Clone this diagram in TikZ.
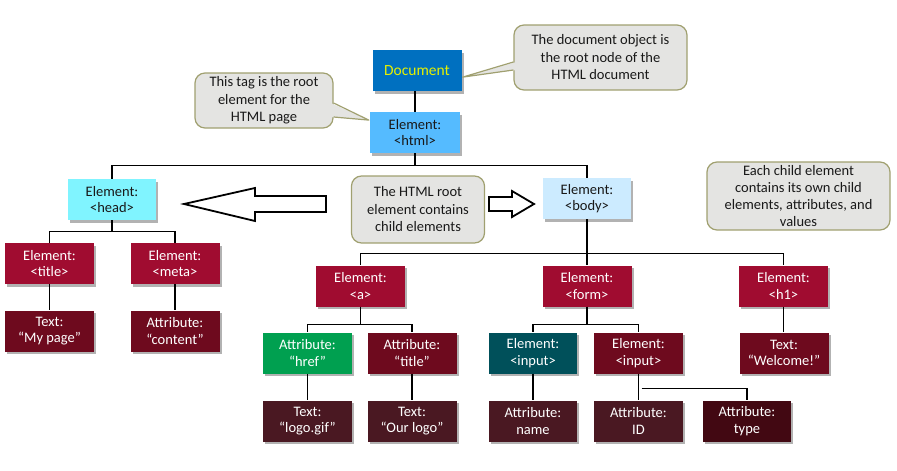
\documentclass[tikz,border=0pt]{standalone}
\usepackage{fontspec}
\setmainfont{Carlito}
\usetikzlibrary{calc,shadows}
\definecolor{docblue}{HTML}{0070C0}
\definecolor{docyel}{HTML}{E6F000}
\definecolor{htmlblue}{HTML}{55BBFF}
\definecolor{headcyan}{HTML}{80F4FF}
\definecolor{bodyblue}{HTML}{CCEBFF}
\definecolor{elred}{HTML}{A00C30}
\definecolor{darkred}{HTML}{6E0A1E}
\definecolor{attgreen}{HTML}{00A050}
\definecolor{teal}{HTML}{00505A}
\definecolor{brownred}{HTML}{4A1822}
\definecolor{deepred}{HTML}{420812}
\definecolor{cfill}{HTML}{E4E4E2}
\definecolor{cline}{HTML}{A0A070}
\tikzset{
  box/.style={rectangle, minimum width=89pt, minimum height=41pt, inner sep=0pt,
    align=center, font=\fontsize{14.5}{16.5}\selectfont, text=white,
    drop shadow={shadow xshift=2pt, shadow yshift=-2.5pt, opacity=0.3, fill=black}},
  lightbox/.style={box, text=black!90},
  callout/.style={rectangle, rounded corners=10pt, fill=cfill, draw=cline, line width=1.2pt,
    align=center, inner sep=0pt, font=\fontsize{14.5}{17.5}\selectfont, text=black!90},
  tree/.style={draw=black, line width=1.3pt},
  blockarrow/.style={draw=black, fill=white, line width=1.8pt, line join=miter},
}
\begin{document}
\begin{tikzpicture}[x=1pt,y=-1pt]
\useasboundingbox (0,0) rectangle (897,471);
% nodes
\node[box, fill=docblue, text=docyel, font=\fontsize{15.5}{17}\selectfont] (doc) at (417,70.5) {Document};
\node[lightbox, fill=htmlblue, minimum width=90pt] (html) at (415,132.5) {Element:\\<html>};
\node[lightbox, fill=headcyan, minimum width=88pt] (head) at (112,199.5) {Element:\\<head>};
\node[lightbox, fill=bodyblue, minimum width=88pt] (body) at (587,198.5) {Element:\\<body>};
\node[box, fill=elred] (title) at (49.5,263.5) {Element:\\<title>};
\node[box, fill=elred] (meta) at (175,263.5) {Element:\\<meta>};
\node[box, fill=darkred] (mypage) at (49.5,331) {Text:\\“My page”};
\node[box, fill=darkred] (content) at (175,331) {Attribute:\\“content”};
\node[box, fill=elred] (a) at (360.5,286) {Element:\\<a>};
\node[box, fill=elred] (form) at (587,286) {Element:\\<form>};
\node[box, fill=elred] (h1) at (783.5,286) {Element:\\<h1>};
\node[box, fill=attgreen] (href) at (307.5,353) {Attribute:\\“href”};
\node[box, fill=darkred] (tattr) at (412,353) {Attribute:\\“title”};
\node[box, fill=teal, minimum width=88pt] (input1) at (533,353) {Element:\\<input>};
\node[box, fill=darkred] (input2) at (638.5,353) {Element:\\<input>};
\node[box, fill=darkred] (welcome) at (784,353) {Text:\\“Welcome!”};
\node[box, fill=brownred] (logo) at (307.5,421) {Text:\\“logo.gif”};
\node[box, fill=brownred] (ourlogo) at (412,421) {Text:\\“Our logo”};
\node[box, fill=brownred, minimum width=88pt] (name) at (533,421) {Attribute:\\name};
\node[box, fill=brownred] (id) at (638.5,421) {Attribute:\\ID};
\node[box, fill=deepred, minimum width=88pt] (type) at (747,421) {Attribute:\\type};
% tree connectors
\draw[tree] (doc.south -| html.north) -- (html.north);
\draw[tree] (html.south) -- ++(0,12) -| (head.north);
\draw[tree] (html.south) -- ++(0,12) -| (body.north);
\draw[tree] (head.south) -- ++(0,11) -| (title.north);
\draw[tree] (head.south) -- ++(0,11) -| (meta.north);
\draw[tree] (title.south) -- (title.south |- mypage.north);
\draw[tree] (meta.south) -- (meta.south |- content.north);
\draw[tree] (body.south) -- ++(0,34) -| (a.north);
\draw[tree] (body.south) -- ++(0,34) -| (form.north);
\draw[tree] (body.south) -- ++(0,34) -| (h1.north);
\draw[tree] (a.south) -- ++(0,18) -| (href.north);
\draw[tree] (a.south) -- ++(0,18) -| (tattr.north);
\draw[tree] (form.south) -- ++(0,18) -| (input1.north);
\draw[tree] (form.south) -- ++(0,18) -| (input2.north);
\draw[tree] (h1.south) -- (h1.south |- welcome.north);
\draw[tree] (href.south) -- (href.south |- logo.north);
\draw[tree] (tattr.south) -- (tattr.south |- ourlogo.north);
\draw[tree] (input1.south) -- (input1.south |- name.north);
\draw[tree] (input2.south) -- (input2.south |- id.north);
\draw[tree] ($(input2.south)+(3,15)$) -| (type.north);
% callouts
\node[callout, minimum width=173pt, minimum height=65pt] (cd) at (600.5,57.5)
  {The document object is\\the root node of the\\HTML document};
\fill[cfill] ($(cd.west)+(3,4.5)$) -- ($(doc.north east)!0.66!(doc.south east)+(1,0)$) -- ($(cd.west)+(3,12.5)$) -- cycle;
\draw[cline, line width=1.2pt, line join=round] ($(cd.west)+(0,4.5)$) -- ($(doc.north east)!0.66!(doc.south east)+(1,0)$) -- ($(cd.west)+(0,12.5)$);
\node[callout, minimum width=138pt, minimum height=55pt] (cl) at (264,100.5)
  {This tag is the root\\element for the\\HTML page};
\fill[cfill] ($(cl.east)+(-3,2.5)$) -- ($(html.north west)!0.2!(html.south west)+(-1,0)$) -- ($(cl.east)+(-3,16.5)$) -- cycle;
\draw[cline, line width=1.2pt, line join=round] ($(cl.east)+(0,2.5)$) -- ($(html.north west)!0.2!(html.south west)+(-1,0)$) -- ($(cl.east)+(0,16.5)$);
\node[callout, minimum width=133pt, minimum height=67pt] (cm) at (418,209.5)
  {The HTML root\\element contains\\child elements};
\node[callout, minimum width=183pt, minimum height=68pt, font=\fontsize{14.5}{17}\selectfont] (cr) at (798.5,196)
  {Each child element\\contains its own child\\elements, attributes, and\\values};
% block arrows
\draw[blockarrow] (184,204) -- (255,188) -- (255,196) -- (326,196) -- (326,212) -- (255,212) -- (255,221) -- cycle;
\draw[blockarrow] (534,204) -- (512,191) -- (512,197) -- (489,197) -- (489,211) -- (512,211) -- (512,217) -- cycle;
\end{tikzpicture}
\end{document}
